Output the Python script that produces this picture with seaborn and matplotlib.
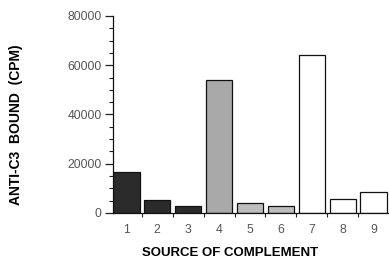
"""Anti-C3 binding by source of complement."""

import matplotlib.pyplot as plt
import pandas as pd
import seaborn as sns
from matplotlib.ticker import MultipleLocator

sources = ["1", "2", "3", "4", "5", "6", "7", "8", "9"]
cpm_bound = [16800, 5100, 3000, 54000, 4000, 2800, 64000, 5500, 8500]
bar_colors = ["#2b2b2b", "#2b2b2b", "#2b2b2b",
              "#a9a9a9", "#bdbdbd", "#bdbdbd",
              "#ffffff", "#ffffff", "#ffffff"]

df = pd.DataFrame({"source": sources, "cpm": cpm_bound})

sns.set_theme(style="ticks")
plt.rcParams["font.family"] = ["Liberation Sans", "DejaVu Sans"]

fig = plt.figure(figsize=(3.89, 2.61), dpi=100)
ax = fig.add_axes([0.29, 0.184, 0.71, 0.755])

sns.barplot(data=df, x="source", y="cpm", hue="source", palette=bar_colors,
            legend=False, width=0.85, edgecolor="#111111", linewidth=0.9, ax=ax)

ax.set_xlim(-0.44, 8.5)
ax.set_ylim(0, 80000)
ax.yaxis.set_major_locator(MultipleLocator(20000))
ax.yaxis.set_minor_locator(MultipleLocator(5000))
ax.set_xticks([i + 0.5 for i in range(8)], minor=True)
ax.tick_params(axis="y", which="major", length=6, width=0.9, labelsize=8.8,
               labelcolor="#555555", color="#222222", pad=2)
ax.tick_params(axis="y", which="minor", length=3, width=0.8, color="#222222")
ax.tick_params(axis="x", which="major", length=0, labelsize=8.8,
               labelcolor="#555555", pad=8)
ax.tick_params(axis="x", which="minor", length=3, width=0.8, color="#222222")

for side in ["top", "right"]:
    ax.spines[side].set_visible(False)
ax.spines["left"].set_linewidth(0.9)
ax.spines["left"].set_color("#111111")
ax.spines["bottom"].set_linewidth(0.9)
ax.spines["bottom"].set_color("#111111")

ax.set_xlabel("SOURCE OF COMPLEMENT", fontsize=9.5, fontweight="bold", color="black")
ax.set_ylabel("ANTI-C3  BOUND  (CPM)", fontsize=10, fontweight="bold", color="black")
ax.xaxis.set_label_coords(0.424, -0.203)
ax.yaxis.set_label_coords(-0.351, 0.447)
ax.xaxis.label.set_verticalalignment("center")
ax.yaxis.label.set_verticalalignment("center")

fig.savefig("out.png", dpi=100)
